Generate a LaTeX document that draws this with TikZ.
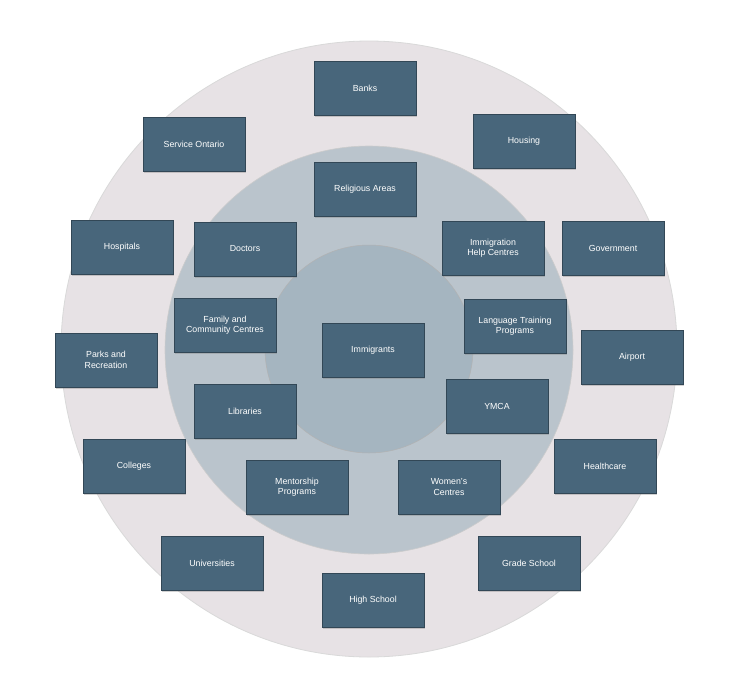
\documentclass[tikz,border=0pt]{standalone}
\usepackage{fontspec}
\setmainfont{Liberation Sans}
\usetikzlibrary{backgrounds,shadows}
\definecolor{boxc}{HTML}{48667B}
\definecolor{outerc}{HTML}{E7E2E5}
\definecolor{midc}{HTML}{BAC4CC}
\definecolor{innc}{HTML}{A5B5C0}
\begin{document}
\begin{tikzpicture}[x=1pt,y=-1pt,
 box/.style={draw=boxc!70!black,line width=0.4pt,fill=boxc,text=white,minimum width=102pt,minimum height=54pt,
   align=center,font=\fontsize{8.8}{10.5}\selectfont,inner sep=2pt,drop shadow={shadow xshift=1pt,shadow yshift=-1.5pt,opacity=0.35}},
 lk/.style={black,line width=0.6pt}]
\useasboundingbox (0,0) rectangle (736,686);
\fill[white] (0,0) rectangle (736,686);
\filldraw[fill=outerc,draw=white!85!black,line width=0.8pt] (369,349) circle (308);
\filldraw[fill=midc,draw=white!80!black,line width=0.6pt] (369,350) circle (204);
\filldraw[fill=innc,draw=white!70!black,line width=0.5pt] (369,349) circle (104);
\node[box] (banks) at (365,88) {Banks};
\node[box] (so) at (194,144) {Service Ontario};
\node[box] (hous) at (524,141) {Housing};
\node[box] (rel) at (365,189) {Religious Areas};
\node[box] (hosp) at (122,247) {Hospitals};
\node[box] (doc) at (245,249) {Doctors};
\node[box] (ihc) at (493,248) {Immigration\\Help Centres};
\node[box] (gov) at (613,248) {Government};
\node[box] (fam) at (225,325) {Family and\\Community Centres};
\node[box] (imm) at (373,350) {Immigrants};
\node[box] (lang) at (515,326) {Language Training\\Programs};
\node[box] (air) at (632,357) {Airport};
\node[box] (parks) at (106,360) {Parks and\\Recreation};
\node[box] (lib) at (245,411) {Libraries};
\node[box] (ymca) at (497,406) {YMCA};
\node[box] (col) at (134,466) {Colleges};
\node[box] (hc) at (605,466) {Healthcare};
\node[box] (ment) at (297,487) {Mentorship\\Programs};
\node[box] (wom) at (449,487) {Women's\\Centres};
\node[box] (uni) at (212,563) {Universities};
\node[box] (gs) at (529,563) {Grade School};
\node[box] (hs) at (373,600) {High School};
\begin{scope}[on background layer]
\foreach \a/\b in {banks/so,banks/hous,hous/gov,so/hosp,hosp/doc,hosp/parks,gov/ihc,gov/air,ihc/air,rel/ihc,rel/imm,doc/imm,doc/fam,fam/parks,fam/imm,ihc/imm,lang/imm,lang/ymca,ymca/imm,lib/imm,lib/col,imm/ment,imm/wom,ymca/ment,ment/wom,wom/hc,ymca/hc,hc/gs,gs/hs,hs/uni,uni/col}
  \draw[lk] (\a.center) -- (\b.center);
\end{scope}
\end{tikzpicture}
\end{document}
